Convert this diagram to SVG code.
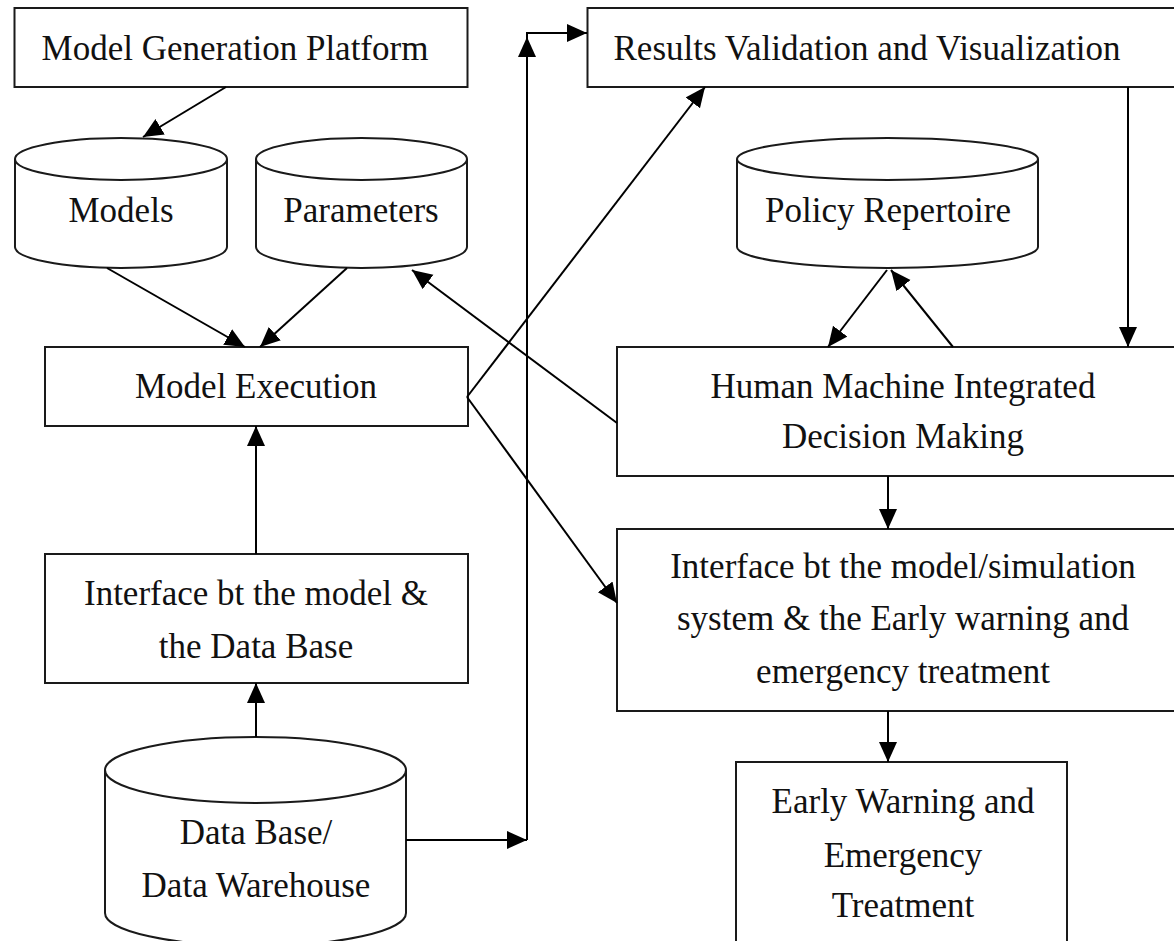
<svg xmlns="http://www.w3.org/2000/svg" width="1174" height="941" viewBox="0 0 1174 941">
<defs>
<marker id="ah" markerUnits="userSpaceOnUse" markerWidth="22" markerHeight="20" refX="20" refY="9" orient="auto"><path d="M0,0 L20,9 L0,18 z" fill="#000"/></marker>
</defs>
<style>
.box{fill:#fff;stroke:#1a1a1a;stroke-width:2}
.cyl{fill:#fff;stroke:#1a1a1a;stroke-width:2}
.f{fill:none;stroke:#1a1a1a;stroke-width:2}
.t{font-family:"Liberation Serif","Times New Roman",serif;font-size:35px;fill:#111;text-anchor:middle}
.c{fill:none;stroke:#000;stroke-width:2;marker-end:url(#ah)}
</style>
<rect width="1174" height="941" fill="#fff"/>

<g id="model-generation-platform">
<rect class="box" x="14.5" y="8" width="453" height="79"/>
<text class="t" x="235" y="60">Model Generation Platform</text>
</g>
<g id="results-validation">
<rect class="box" x="587.5" y="8" width="600" height="79"/>
<text class="t" x="867" y="60">Results Validation and Visualization</text>
</g>
<g id="models">
<path class="cyl" d="M15,159 A106,21 0 0 1 227,159 L227,247 A106,21 0 0 1 15,247 Z"/>
<path class="f" d="M15,159 A106,21 0 0 0 227,159"/>
<text class="t" x="121" y="222">Models</text>
</g>
<g id="parameters">
<path class="cyl" d="M256,159 A105.5,21 0 0 1 467,159 L467,247 A105.5,21 0 0 1 256,247 Z"/>
<path class="f" d="M256,159 A105.5,21 0 0 0 467,159"/>
<text class="t" x="361" y="222">Parameters</text>
</g>
<g id="policy-repertoire">
<path class="cyl" d="M737,159 A150.5,21 0 0 1 1038,159 L1038,247 A150.5,21 0 0 1 737,247 Z"/>
<path class="f" d="M737,159 A150.5,21 0 0 0 1038,159"/>
<text class="t" x="888" y="222">Policy Repertoire</text>
</g>
<g id="model-execution">
<rect class="box" x="45" y="347" width="423" height="79"/>
<text class="t" x="256" y="398">Model Execution</text>
</g>
<g id="human-machine">
<rect class="box" x="617" y="347" width="580" height="129"/>
<text class="t" x="903" y="398">Human Machine Integrated</text>
<text class="t" x="903" y="448">Decision Making</text>
</g>
<g id="interface-db">
<rect class="box" x="45" y="554" width="423" height="129"/>
<text class="t" x="256" y="605">Interface bt the model &amp;</text>
<text class="t" x="256" y="658">the Data Base</text>
</g>
<g id="interface-ew">
<rect class="box" x="617" y="529" width="580" height="182"/>
<text class="t" x="903" y="578">Interface bt the model/simulation</text>
<text class="t" x="903" y="630">system &amp; the Early warning and</text>
<text class="t" x="903" y="683">emergency treatment</text>
</g>
<g id="database">
<path class="cyl" d="M105,770 A150.5,33 0 0 1 406,770 L406,913 A150.5,33 0 0 1 105,913 Z"/>
<path class="f" d="M105,770 A150.5,33 0 0 0 406,770"/>
<text class="t" x="256" y="844">Data Base/</text>
<text class="t" x="256" y="897">Data Warehouse</text>
</g>
<g id="early-warning">
<rect class="box" x="736" y="762" width="331" height="200"/>
<text class="t" x="903" y="813">Early Warning and</text>
<text class="t" x="903" y="867">Emergency</text>
<text class="t" x="903" y="917">Treatment</text>
</g>

<g id="connectors">
<line class="c" x1="226" y1="87" x2="143" y2="137"/>
<line class="c" x1="107" y1="268" x2="245" y2="347"/>
<line class="c" x1="347" y1="268" x2="260" y2="347"/>
<line class="c" x1="256" y1="554" x2="256" y2="426"/>
<line class="c" x1="256" y1="737" x2="256" y2="683"/>
<line class="c" x1="406" y1="840" x2="527" y2="840"/>
<line class="c" x1="527" y1="840" x2="527" y2="37"/>
<path class="c" d="M527,37 L527,33 L587,33"/>
<line class="c" x1="467" y1="397" x2="705" y2="87"/>
<line class="c" x1="467" y1="397" x2="617" y2="603"/>
<line class="c" x1="617" y1="423" x2="412" y2="270"/>
<line class="c" x1="1128" y1="87" x2="1128" y2="347"/>
<line class="c" x1="887" y1="270" x2="828" y2="347"/>
<line class="c" x1="953" y1="347" x2="891" y2="270"/>
<line class="c" x1="888" y1="476" x2="888" y2="529"/>
<line class="c" x1="888" y1="711" x2="888" y2="762"/>
</g>
</svg>
